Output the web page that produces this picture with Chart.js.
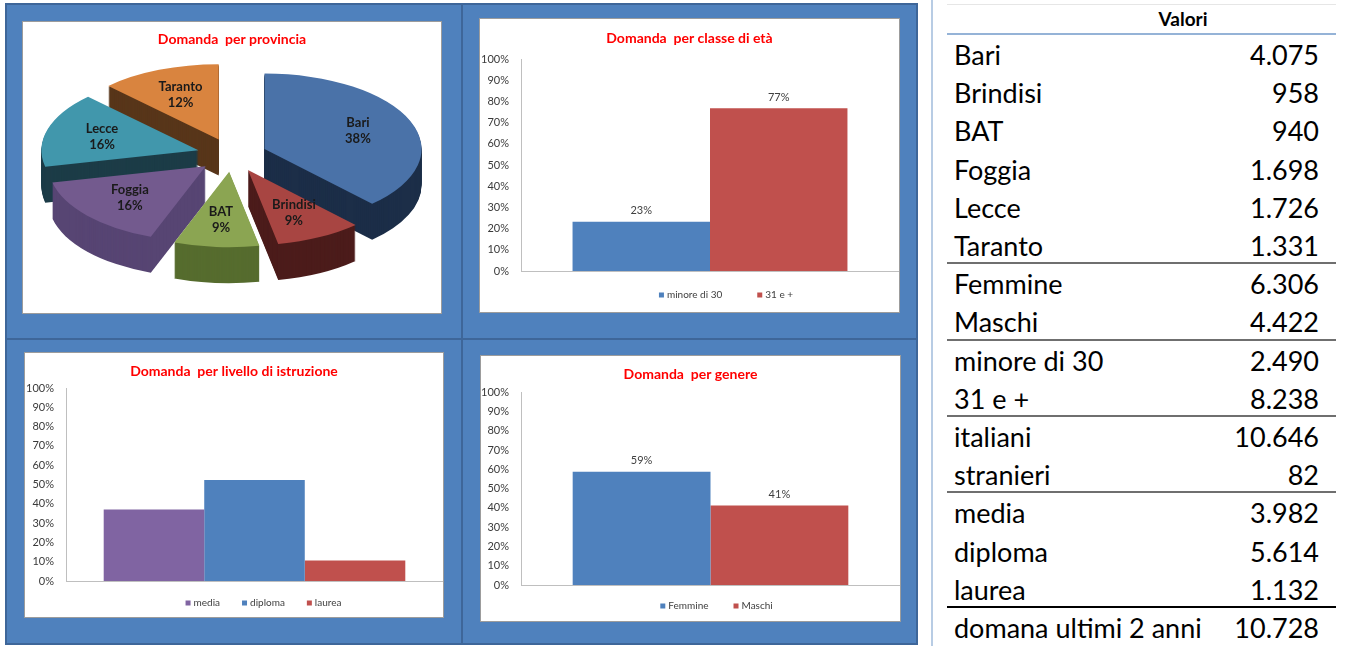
<!DOCTYPE html>
<html>
<head>
<meta charset="utf-8">
<script src="https://cdn.jsdelivr.net/npm/chart.js@4/dist/chart.umd.min.js"></script>
<style>
  body { margin: 0; width: 1345px; height: 646px; background: #fff; overflow: hidden; position: relative; font-family: Lato, sans-serif; }
  .abs { position: absolute; }
  #bg { left: 5px; top: 3px; width: 913px; height: 642px; box-sizing: border-box; background: #4F81BD; border: 2px solid #3E6699; }
  .div { background: #3E6699; }
  .box { position: absolute; box-sizing: border-box; border: 1px solid #9c9c9c; background: #fff; }
  .box > div { position: relative; width: 100%; height: 100%; }
  .row { position: absolute; left: 954px; width: 365px; height: 38px; line-height: 38px; font-size: 27px; color: #000; }
  .row span.v { position: absolute; right: 0; }
  .sep { position: absolute; left: 947px; width: 389px; height: 2px; background: #6f6f6f; }
</style>
</head>
<body>
<div id="bg" class="abs"></div>
<div class="abs div" style="left:461px;top:3px;width:2px;height:642px"></div>
<div class="abs div" style="left:5px;top:338px;width:913px;height:2px"></div>

<div class="box" style="left:22px;top:21px;width:420px;height:293px"><div><canvas id="cProv"></canvas></div></div>
<div class="box" style="left:479px;top:18px;width:421px;height:295px"><div><canvas id="cEta"></canvas></div></div>
<div class="box" style="left:24px;top:352px;width:420px;height:266px"><div><canvas id="cIstr"></canvas></div></div>
<div class="box" style="left:480px;top:355px;width:421px;height:267px"><div><canvas id="cGen"></canvas></div></div>

<div class="abs" style="left:931px;top:0;width:2px;height:646px;background:#B8CCE4"></div>
<div class="abs" style="left:947px;top:4px;width:389px;height:1px;background:#e6e6e6"></div>
<div class="abs" style="left:1030px;top:6px;width:306px;text-align:center;font-weight:bold;font-size:19px;line-height:26px">Valori</div>
<div class="abs" style="left:947px;top:33px;width:389px;height:2px;background:#95B3D7"></div>
<div id="table"></div>

<script>
// valori (tabella)
const provLabels = ['Bari', 'Brindisi', 'BAT', 'Foggia', 'Lecce', 'Taranto'];
const provValues = [4075, 958, 940, 1698, 1726, 1331];
const genLabels = ['Femmine', 'Maschi'];
const genValues = [6306, 4422];
const etaLabels = ['minore di 30', '31 e +'];
const etaValues = [2490, 8238];
const nazLabels = ['italiani', 'stranieri'];
const nazValues = [10646, 82];
const istrLabels = ['media', 'diploma', 'laurea'];
const istrValues = [3982, 5614, 1132];
const totLabels = ['domana ultimi 2 anni'];
const totValues = [10728];

// percentuali
const etaPct = [23.2, 76.8];
const genPct = [58.8, 41.2];
const istrPct = [37.1, 52.3, 10.6];

const yTicks = [0, 10, 20, 30, 40, 50, 60, 70, 80, 90, 100];

const BLUE = '#4F81BD', RED = '#C0504D', PURPLE = '#8064A2';
const pieTop = ['#4A72A8', '#A84542', '#8BA552', '#735A8E', '#4197AC', '#D9843F'];
const pieSide = ['#1C2E48', '#4C1C1B', '#566C2E', '#574573', '#1C3C47', '#58361A'];

const fmt = v => String(v).replace(/\B(?=(\d{3})+(?!\d))/g, '.');

// tabella a destra
const groups = [[provLabels, provValues], [genLabels, genValues], [etaLabels, etaValues],
  [nazLabels, nazValues], [istrLabels, istrValues], [totLabels, totValues]];
const tbl = document.getElementById('table');
let r = 0;
groups.forEach((g, gi) => {
  const top = 36 + r * 38.2;
  if (gi > 0) {
    const s = document.createElement('div');
    s.className = 'sep';
    s.style.top = (top - 3) + 'px';
    if (gi === groups.length - 1) s.style.background = '#000';
    tbl.appendChild(s);
  }
  g[0].forEach((lab, i) => {
    const d = document.createElement('div');
    d.className = 'row';
    d.style.top = (36 + r * 38.2) + 'px';
    d.innerHTML = '<span>' + lab + '</span><span class="v">' + fmt(g[1][i]) + '</span>';
    tbl.appendChild(d);
    r++;
  });
});

Chart.defaults.font.family = 'Lato, sans-serif';
Chart.defaults.animation = false;

const valueLabels = {
  id: 'valueLabels',
  afterDatasetsDraw(chart, args, o) {
    if (!o.show) return;
    const ctx = chart.ctx;
    ctx.save();
    ctx.font = '11px Lato';
    ctx.fillStyle = '#404040';
    ctx.textAlign = 'center';
    ctx.textBaseline = 'middle';
    chart.data.datasets.forEach((ds, i) => {
      chart.getDatasetMeta(i).data.forEach((el, j) => {
        ctx.fillText(Math.round(ds.data[j]) + '%', el.x, el.y - 11);
      });
    });
    ctx.restore();
  }
};

const boxLegend = {
  id: 'boxLegend',
  afterDraw(chart, args, o) {
    const ctx = chart.ctx, area = chart.chartArea;
    ctx.save();
    ctx.font = '10px Lato';
    ctx.textBaseline = 'middle';
    const items = chart.data.datasets.map(ds => ({
      text: ds.label, color: ds.backgroundColor, w: 8 + ctx.measureText(ds.label).width
    }));
    const total = items.reduce((s, it) => s + it.w, 0) + o.gap * (items.length - 1);
    let x = (area.left + area.right) / 2 + o.shift - total / 2;
    const y = area.bottom + o.dy;
    items.forEach(it => {
      ctx.fillStyle = it.color;
      ctx.fillRect(x, y - 2.5, 5, 5);
      ctx.fillStyle = '#404040';
      ctx.fillText(it.text, x + 8, y);
      x += it.w + o.gap;
    });
    ctx.restore();
  }
};

function barChart(id, title, labels, values, colors, o) {
  return new Chart(document.getElementById(id), {
    type: 'bar',
    data: {
      labels: [''],
      datasets: labels.map((l, i) => ({ label: l, data: [values[i]], backgroundColor: colors[i], borderWidth: 0 }))
    },
    options: {
      responsive: true,
      maintainAspectRatio: false,
      datasets: { bar: { categoryPercentage: labels.length / (labels.length + 0.75), barPercentage: 1 } },
      layout: { padding: { top: 0, left: 0, right: 0, bottom: o.bottom } },
      scales: {
        x: {
          grid: { display: false, drawTicks: false },
          ticks: { display: false },
          border: { color: '#BFBFBF' },
          afterFit: s => { s.height = 0; }
        },
        y: {
          min: 0, max: 100,
          afterBuildTicks: s => { s.ticks = yTicks.map(v => ({ value: v })); },
          ticks: { callback: v => v + '%', padding: 12, color: '#3a3a3a', font: { size: 11 } },
          grid: { display: false, drawTicks: false },
          border: { color: '#BFBFBF' },
          afterFit: s => { s.width = o.axisW; }
        }
      },
      plugins: {
        legend: { display: false },
        tooltip: { enabled: false },
        title: {
          display: true, text: title, color: '#FF0000',
          font: { size: 14, weight: 'bold' }, padding: o.titlePad
        },
        valueLabels: { show: o.values },
        boxLegend: { gap: o.gap, shift: o.shift, dy: o.dy }
      }
    },
    plugins: [valueLabels, boxLegend]
  });
}

barChart('cEta', 'Domanda  per classe di età', etaLabels, etaPct, [BLUE, RED],
  { bottom: 41, axisW: 41, titlePad: { top: 10.6, bottom: 12.6 }, values: true, gap: 35, shift: 16, dy: 24 });
barChart('cIstr', 'Domanda  per livello di istruzione', istrLabels, istrPct, [PURPLE, BLUE, RED],
  { bottom: 36, axisW: 41, titlePad: { top: 9.6, bottom: 8.6 }, values: false, gap: 22, shift: 9, dy: 22 });
barChart('cGen', 'Domanda  per genere', genLabels, genPct, [BLUE, RED],
  { bottom: 36, axisW: 40, titlePad: { top: 9.6, bottom: 9.9 }, values: true, gap: 25, shift: 6, dy: 21 });

// torta 3D: ellisse schiacciata, fette esplose e pareti laterali
const pie3d = {
  id: 'pie3d',
  beforeDatasetsDraw(chart, args, o) {
    const ctx = chart.ctx;
    const arcs = chart.getDatasetMeta(0).data;
    const cx = arcs[0].x, cy = arcs[0].y;
    ctx.save();
    ctx.translate(cx, cy);
    ctx.scale(1, o.tilt);
    ctx.translate(-cx, -cy);
    for (let d = o.depth; d > 0; d--) {
      arcs.forEach((arc, i) => {
        const mid = (arc.startAngle + arc.endAngle) / 2;
        const x = cx + Math.cos(mid) * o.explode;
        const y = cy + Math.sin(mid) * o.explode + d / o.tilt;
        ctx.beginPath();
        ctx.moveTo(x, y);
        ctx.arc(x, y, arc.outerRadius, arc.startAngle, arc.endAngle);
        ctx.closePath();
        ctx.fillStyle = pieSide[i];
        ctx.fill();
      });
    }
    arcs.forEach(arc => {
      const mid = (arc.startAngle + arc.endAngle) / 2;
      ctx.save();
      ctx.translate(Math.cos(mid) * o.explode, Math.sin(mid) * o.explode);
      arc.draw(ctx);
      ctx.restore();
    });
    ctx.restore();

    const data = chart.data.datasets[0].data;
    const total = data.reduce((a, b) => a + b, 0);
    ctx.save();
    ctx.font = 'bold 13px Lato';
    ctx.fillStyle = '#1a1a1a';
    ctx.textAlign = 'center';
    ctx.textBaseline = 'middle';
    arcs.forEach((arc, i) => {
      const mid = (arc.startAngle + arc.endAngle) / 2;
      const dist = o.explode + arc.outerRadius * 0.64;
      const x = cx + Math.cos(mid) * dist;
      const y = cy + Math.sin(mid) * dist * o.tilt;
      ctx.fillText(chart.data.labels[i], x, y - 8);
      ctx.fillText(Math.round(data[i] / total * 100) + '%', x, y + 8);
    });
    ctx.restore();
    return false;
  }
};

new Chart(document.getElementById('cProv'), {
  type: 'pie',
  data: {
    labels: provLabels,
    datasets: [{ data: provValues, backgroundColor: pieTop, borderWidth: 0, clip: false }]
  },
  options: {
    responsive: true,
    maintainAspectRatio: false,
    radius: 157,
    layout: { padding: { top: 0, bottom: 61, left: 0, right: 0 } },
    plugins: {
      legend: { display: false },
      tooltip: { enabled: false },
      title: {
        display: true, text: 'Domanda  per provincia', color: '#FF0000',
        font: { size: 14, weight: 'bold' }, padding: { top: 9.4, bottom: 10 }
      },
      pie3d: { tilt: 0.48, depth: 36, explode: 35 }
    }
  },
  plugins: [pie3d]
});
</script>
</body>
</html>
